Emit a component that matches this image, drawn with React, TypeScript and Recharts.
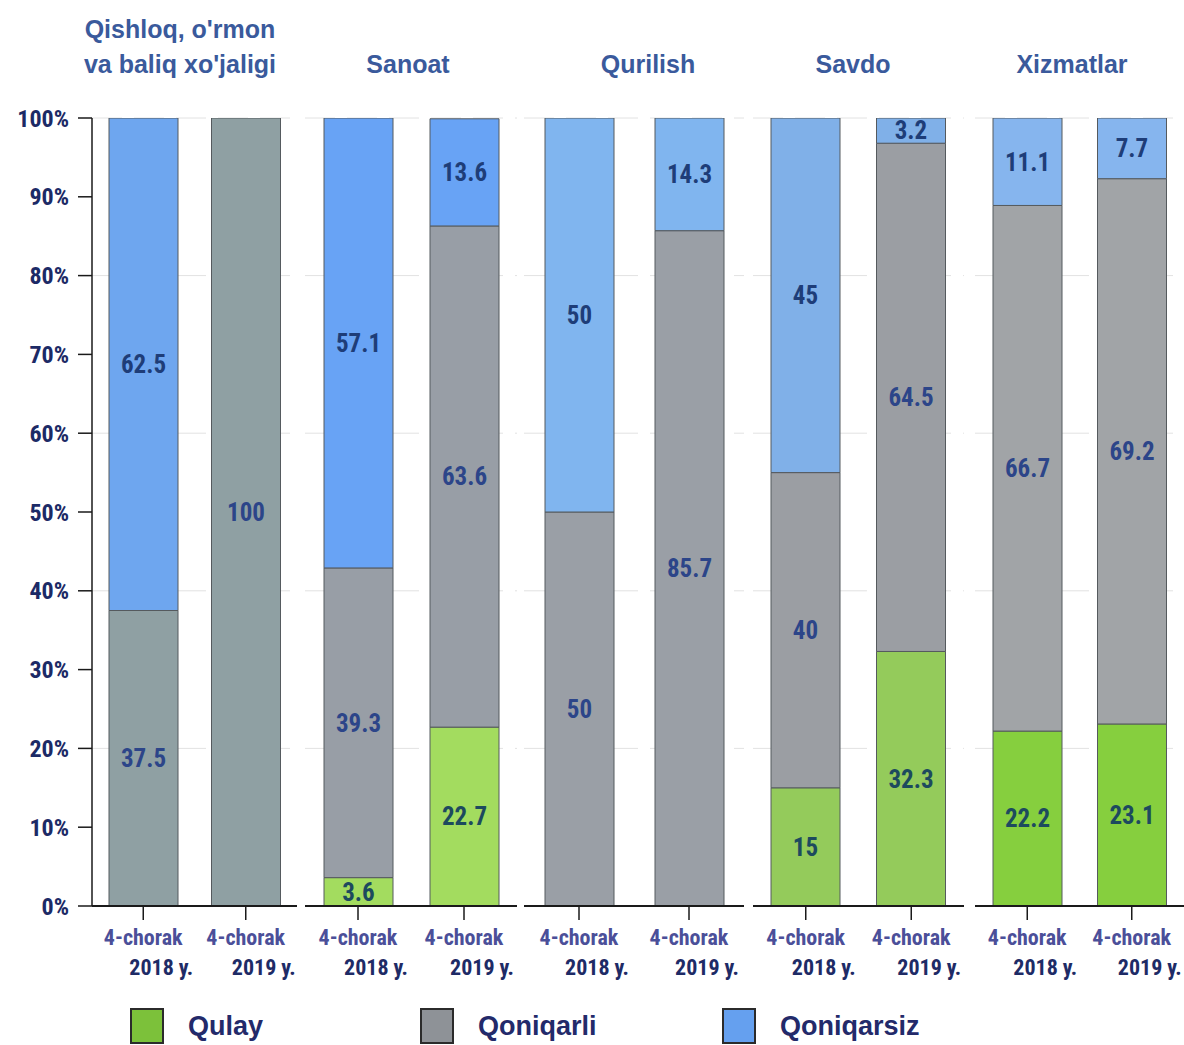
import React from 'react';
import {
  BarChart,
  Bar,
  XAxis,
  YAxis,
  CartesianGrid,
  LabelList,
} from 'recharts';

const categories = ['4-chorak|2018 y.', '4-chorak|2019 y.'];
const sectors = ['Qishloq, o\'rmon|va baliq xo\'jaligi', 'Sanoat', 'Qurilish', 'Savdo', 'Xizmatlar'];
const seriesNames = ['Qulay', 'Qoniqarli', 'Qoniqarsiz'];

// per sector: [2018, 2019]
const qulay = [
  [0, 0],
  [3.6, 22.7],
  [0, 0],
  [15, 32.3],
  [22.2, 23.1],
];
const qoniqarli = [
  [37.5, 100],
  [39.3, 63.6],
  [50, 85.7],
  [40, 64.5],
  [66.7, 69.2],
];
const qoniqarsiz = [
  [62.5, 0],
  [57.1, 13.6],
  [50, 14.3],
  [45, 3.2],
  [11.1, 7.7],
];
const yTicks = [0, 10, 20, 30, 40, 50, 60, 70, 80, 90, 100];

// panel placement on the page
const panels = [
  { left: 0, width: 297, green: '#9edb5a', gray: '#8fa0a3', blue: '#6ea6ef', titleX: 180 },
  { left: 305, width: 212, green: '#a3dc5f', gray: '#989ea6', blue: '#68a3f5', titleX: 408 },
  { left: 524, width: 220, green: '#9ed45c', gray: '#9a9fa6', blue: '#80b5ef', titleX: 648 },
  { left: 753, width: 211, green: '#94cb5b', gray: '#9b9ea3', blue: '#80b0e8', titleX: 853 },
  { left: 975, width: 209, green: '#86cf3e', gray: '#a1a4a7', blue: '#86b5ee', titleX: 1072 },
];

const condensed = "'Roboto Condensed', 'DejaVu Sans Condensed', 'Liberation Sans Narrow', Roboto, sans-serif";
const sansBold = "'Liberation Sans', Arial, sans-serif";

const PLOT_TOP = 118;
const PLOT_BOTTOM = 906;
const CHART_H = 1000;

const XTick = (props: any) => {
  const { x, y, payload } = props;
  const [l1, l2] = String(payload.value).split('|');
  return (
    <g>
      <text x={x} y={y + 23} textAnchor="middle" fill="#4b4f99" fontFamily={condensed} fontWeight={700} fontSize={22} fontStretch="condensed">
        {l1}
      </text>
      <text x={x + 50} y={y + 53} textAnchor="end" fill="#1e2b66" fontFamily={condensed} fontWeight={700} fontSize={22} fontStretch="condensed">
        {l2}
      </text>
    </g>
  );
};

const fmt = (v: any) => (v ? String(v) : '');

function Panel({ index }: { index: number }) {
  const p = panels[index];
  const data = categories.map((c, i) => ({
    name: c,
    Qulay: qulay[index][i] || null,
    Qoniqarli: qoniqarli[index][i] || null,
    Qoniqarsiz: qoniqarsiz[index][i] || null,
  }));
  const first = index === 0;
  const labelStyle = { fontFamily: condensed, fontWeight: 700, fontSize: 25, fontStretch: 'condensed' } as any;
  return (
    <div style={{ position: 'absolute', left: p.left, top: 0, width: p.width, height: CHART_H }}>
      <BarChart
        width={p.width}
        height={CHART_H}
        data={data}
        margin={{ top: PLOT_TOP, right: 0, bottom: 0, left: 0 }}
        barSize={69}
      >
        <CartesianGrid
          vertical={false}
          horizontalValues={[20, 40, 60, 80, 100]}
          stroke="#e2e2e2"
          strokeDasharray="30 12"
        />
        <XAxis
          dataKey="name"
          height={CHART_H - PLOT_BOTTOM}
          axisLine={{ stroke: '#1a1a1a', strokeWidth: 2 }}
          tickLine={{ stroke: '#1a1a1a', strokeWidth: 1.5 }}
          tickSize={14}
          interval={0}
          tick={<XTick />}
        />
        <YAxis
          hide={!first}
          width={92}
          domain={[0, 100]}
          ticks={yTicks}
          allowDataOverflow
          tickFormatter={(v: number) => `${v}%`}
          axisLine={{ stroke: '#1a1a1a', strokeWidth: 1.5 }}
          tickLine={{ stroke: '#1a1a1a', strokeWidth: 1.5 }}
          tickSize={14}
          tickMargin={9}
          tick={{ fill: '#1c2a66', fontFamily: condensed, fontWeight: 700, fontSize: 24 }}
        />
        <Bar dataKey="Qulay" stackId="a" fill={p.green} stroke="#555a5e" strokeWidth={1} isAnimationActive={false}>
          <LabelList dataKey="Qulay" position="center" formatter={fmt} fill="#1d4a5e" style={labelStyle} />
        </Bar>
        <Bar dataKey="Qoniqarli" stackId="a" fill={p.gray} stroke="#555a5e" strokeWidth={1} isAnimationActive={false}>
          <LabelList dataKey="Qoniqarli" position="center" formatter={fmt} fill="#2c4589" style={labelStyle} />
        </Bar>
        <Bar dataKey="Qoniqarsiz" stackId="a" fill={p.blue} stroke="#555a5e" strokeWidth={1} isAnimationActive={false}>
          <LabelList dataKey="Qoniqarsiz" position="center" formatter={fmt} fill="#1e3d78" style={labelStyle} />
        </Bar>
      </BarChart>
    </div>
  );
}

const legendColors = ['#7cc13a', '#8e9297', '#65a0ef'];
const legendX = [130, 420, 722];

export default function App() {
  return (
    <div style={{ position: 'absolute', left: 0, top: 0, width: 1184, height: 1045, background: '#fff', overflow: 'hidden' }}>
      {sectors.map((s, i) => (
        <div
          key={s}
          style={{
            position: 'absolute',
            left: panels[i].titleX - 150,
            width: 300,
            bottom: 1045 - 82,
            textAlign: 'center',
            color: '#3a5a9c',
            fontFamily: sansBold,
            fontWeight: 700,
            fontSize: 25,
            lineHeight: '35px',
          }}
        >
          {s.split('|').map((line) => (
            <div key={line}>{line}</div>
          ))}
        </div>
      ))}
      {panels.map((_, i) => (
        <Panel key={i} index={i} />
      ))}
      {seriesNames.map((n, i) => (
        <div key={n} style={{ position: 'absolute', left: legendX[i], top: 1008, display: 'flex', alignItems: 'center' }}>
          <div style={{ width: 34, height: 36, background: legendColors[i], border: '2px solid #2b2b2b', boxSizing: 'border-box' }} />
          <span style={{ marginLeft: 24, color: '#232a6a', fontFamily: sansBold, fontWeight: 700, fontSize: 27 }}>{n}</span>
        </div>
      ))}
    </div>
  );
}
